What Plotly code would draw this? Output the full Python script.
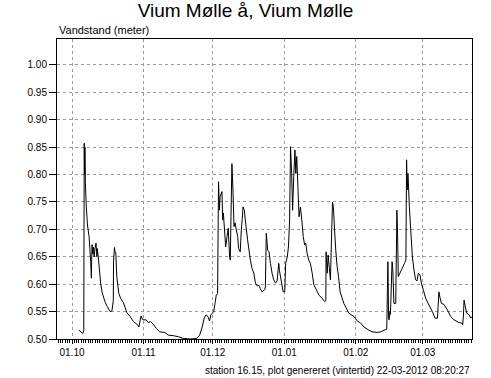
import pandas as pd
import plotly.graph_objects as go

# Days since 2011-10-01 00:00 and water level (m)
days = [3.0, 3.9, 4.6, 5.1, 5.3, 5.5, 5.6, 5.8, 6.2, 6.7, 7.4, 8.1, 8.4, 8.5, 8.7, 9.0, 9.3, 9.6,
        10.0, 10.4, 10.8, 11.0, 11.7, 12.4, 13.1, 14.3, 15.3, 16.5, 17.3, 17.9, 18.0, 18.4, 18.6,
        19.0, 19.4, 20.3, 21.1, 22.3, 23.8, 25.2, 26.6, 28.4, 29.0, 29.9, 30.7, 32.1, 33.1, 34.0,
        35.4, 36.6, 38.0, 40.2, 41.8, 44.0, 46.2, 48.3, 51.3, 54.1, 55.3, 56.3, 57.3, 58.1, 58.9,
        59.6, 60.2, 61.4, 62.1, 62.5, 63.1, 63.5, 63.9, 64.2, 65.0, 65.3, 65.6, 66.1, 66.6, 67.2,
        67.7, 68.3, 68.6, 68.9, 69.3, 69.8, 70.2, 70.7, 71.2, 71.8, 72.2, 72.9, 73.4, 73.8, 74.1,
        74.7, 75.1, 75.6, 76.1, 76.8, 77.3, 78.0, 78.8, 79.5, 80.2, 81.0, 81.6, 82.4, 83.5, 83.8,
        84.2, 84.8, 85.4, 86.0, 86.7, 87.4, 88.2, 88.9, 89.6, 89.9, 90.6, 91.5, 92.2, 92.6, 93.3,
        93.8, 94.3, 94.7, 95.2, 95.6, 96.1, 96.6, 97.0, 97.4, 97.9, 98.4, 99.0, 99.6, 100.2, 100.8,
        101.3, 101.9, 102.6, 103.3, 104.1, 104.8, 106.0, 107.0, 108.5, 109.5, 110.0, 110.1, 110.6,
        111.0, 111.5, 112.0, 112.4, 112.9, 113.3, 113.8, 114.3, 114.9, 115.5, 116.2, 117.8, 120.0,
        122.2, 123.6, 125.1, 126.5, 128.7, 130.1, 132.3, 133.7, 135.2, 136.4, 136.9, 137.2, 137.4,
        137.8, 138.0, 138.7, 139.0, 139.5, 140.3, 140.8, 141.1, 141.4, 142.1, 143.1, 144.1, 144.7,
        145.0, 145.3, 145.6, 146.2, 146.8, 147.5, 148.2, 148.9, 149.5, 150.1, 150.8, 151.4, 152.3,
        153.3, 154.7, 156.2, 157.3, 158.4, 159.0, 159.5, 160.1, 161.2, 162.7, 164.1, 165.5, 167.7,
        168.9, 169.3, 169.6, 169.9, 170.4, 171.1, 172.1, 172.8, 173.3]
level = [0.516, 0.513, 0.510, 0.515, 0.857, 0.800, 0.850, 0.785, 0.741, 0.708, 0.687, 0.641, 0.611, 0.640, 0.672, 0.655, 0.668, 0.650,
         0.666, 0.675, 0.650, 0.665, 0.635, 0.602, 0.584, 0.568, 0.559, 0.550, 0.551, 0.570, 0.641, 0.667, 0.660,
         0.657, 0.614, 0.583, 0.574, 0.566, 0.548, 0.541, 0.532, 0.526, 0.522, 0.542, 0.535, 0.535, 0.530, 0.532,
         0.526, 0.519, 0.513, 0.512, 0.507, 0.506, 0.504, 0.501, 0.500, 0.501, 0.507, 0.520, 0.538, 0.544, 0.541,
         0.533, 0.544, 0.550, 0.568, 0.580, 0.583, 0.787, 0.735, 0.760, 0.769, 0.717, 0.730, 0.699, 0.668, 0.687,
         0.702, 0.650, 0.644, 0.723, 0.820, 0.766, 0.705, 0.712, 0.699, 0.687, 0.665, 0.659, 0.700, 0.720, 0.741,
         0.735, 0.717, 0.699, 0.681, 0.659, 0.644, 0.629, 0.620, 0.602, 0.597, 0.598, 0.592, 0.586, 0.590, 0.595,
         0.693, 0.662, 0.659, 0.638, 0.620, 0.608, 0.602, 0.606, 0.638, 0.625, 0.608, 0.586, 0.586, 0.638, 0.650,
         0.668, 0.717, 0.851, 0.802, 0.735, 0.796, 0.845, 0.802, 0.833, 0.778, 0.723, 0.741, 0.717, 0.687, 0.672,
         0.675, 0.656, 0.644, 0.638, 0.620, 0.599, 0.589, 0.580, 0.574, 0.568, 0.570, 0.659, 0.620,
         0.653, 0.630, 0.608, 0.675, 0.750, 0.740, 0.699, 0.662, 0.632, 0.614, 0.586, 0.565, 0.547,
         0.541, 0.533, 0.529, 0.522, 0.516, 0.513, 0.512, 0.513, 0.516, 0.518, 0.641, 0.540, 0.535,
         0.550, 0.545, 0.641, 0.630, 0.565, 0.565, 0.735, 0.693, 0.614, 0.620, 0.629, 0.638, 0.644,
         0.827, 0.772, 0.802, 0.741, 0.699, 0.650, 0.626, 0.608, 0.606, 0.620, 0.617, 0.602, 0.589,
         0.574, 0.562, 0.550, 0.538, 0.538, 0.586, 0.575, 0.565, 0.563, 0.553, 0.541, 0.535, 0.530,
         0.529, 0.526, 0.540, 0.571, 0.560, 0.547, 0.544, 0.538, 0.541]

base = pd.Timestamp("2011-10-01")
times = [base + pd.Timedelta(days=d) for d in days]

title = "Vium Mølle å, Vium Mølle"
ylabel = "Vandstand (meter)"
footer = "station 16.15, plot genereret (vintertid) 22-03-2012 08:20:27"
x_start, x_end = "2011-09-24 12:00", "2012-03-22 08:20"
y_ticks = [0.50, 0.55, 0.60, 0.65, 0.70, 0.75, 0.80, 0.85, 0.90, 0.95, 1.00]

FONT = "Liberation Sans, Arial, sans-serif"

fig = go.Figure(go.Scatter(x=times, y=level, mode="lines",
                           line=dict(color="black", width=1, simplify=False),
                           hoverinfo="skip"))

fig.update_layout(
    width=491, height=378,
    margin=dict(l=57, r=19, t=39, b=39),
    paper_bgcolor="white", plot_bgcolor="white",
    showlegend=False,
    font=dict(family=FONT, size=10, color="black"),
    title=dict(text=title, x=0.5, xanchor="center", y=0.99, yanchor="top",
               font=dict(family=FONT, size=19, color="black")),
)

fig.update_xaxes(
    range=[x_start, x_end],
    tick0="2011-10-01", dtick="M1", tickformat="%d.%m",
    ticks="outside", ticklen=4, tickcolor="black",
    showline=True, linecolor="black", linewidth=1, mirror=True,
    showgrid=True, gridcolor="#999999", griddash="3px,3px", gridwidth=1,
    zeroline=False,
    minor=dict(dtick=86400000, tick0="2011-10-01", ticks="outside", ticklen=3,
               tickcolor="black", showgrid=False),
    tickfont=dict(size=10),
)
fig.update_yaxes(
    range=[0.5, 1.0474],
    tickvals=y_ticks, ticktext=[f"{v:.2f}" for v in y_ticks],
    ticks="outside", ticklen=7, tickcolor="black",
    showline=True, linecolor="black", linewidth=1, mirror=True,
    showgrid=True, gridcolor="#999999", griddash="3px,3px", gridwidth=1,
    zeroline=False,
    tickfont=dict(size=10),
)

fig.add_annotation(text=ylabel, xref="paper", yref="paper", x=0, y=1,
                   xanchor="left", yanchor="bottom", yshift=1, showarrow=False,
                   font=dict(size=11))
fig.add_annotation(text=footer, xref="paper", yref="paper", x=1, y=0,
                   xanchor="right", yanchor="top", yshift=-24, showarrow=False,
                   font=dict(size=10))

fig.write_html("out.html",
               config={"displayModeBar": False, "staticPlot": True},
               post_script="document.body.style.margin='0';document.body.style.overflow='hidden';")
